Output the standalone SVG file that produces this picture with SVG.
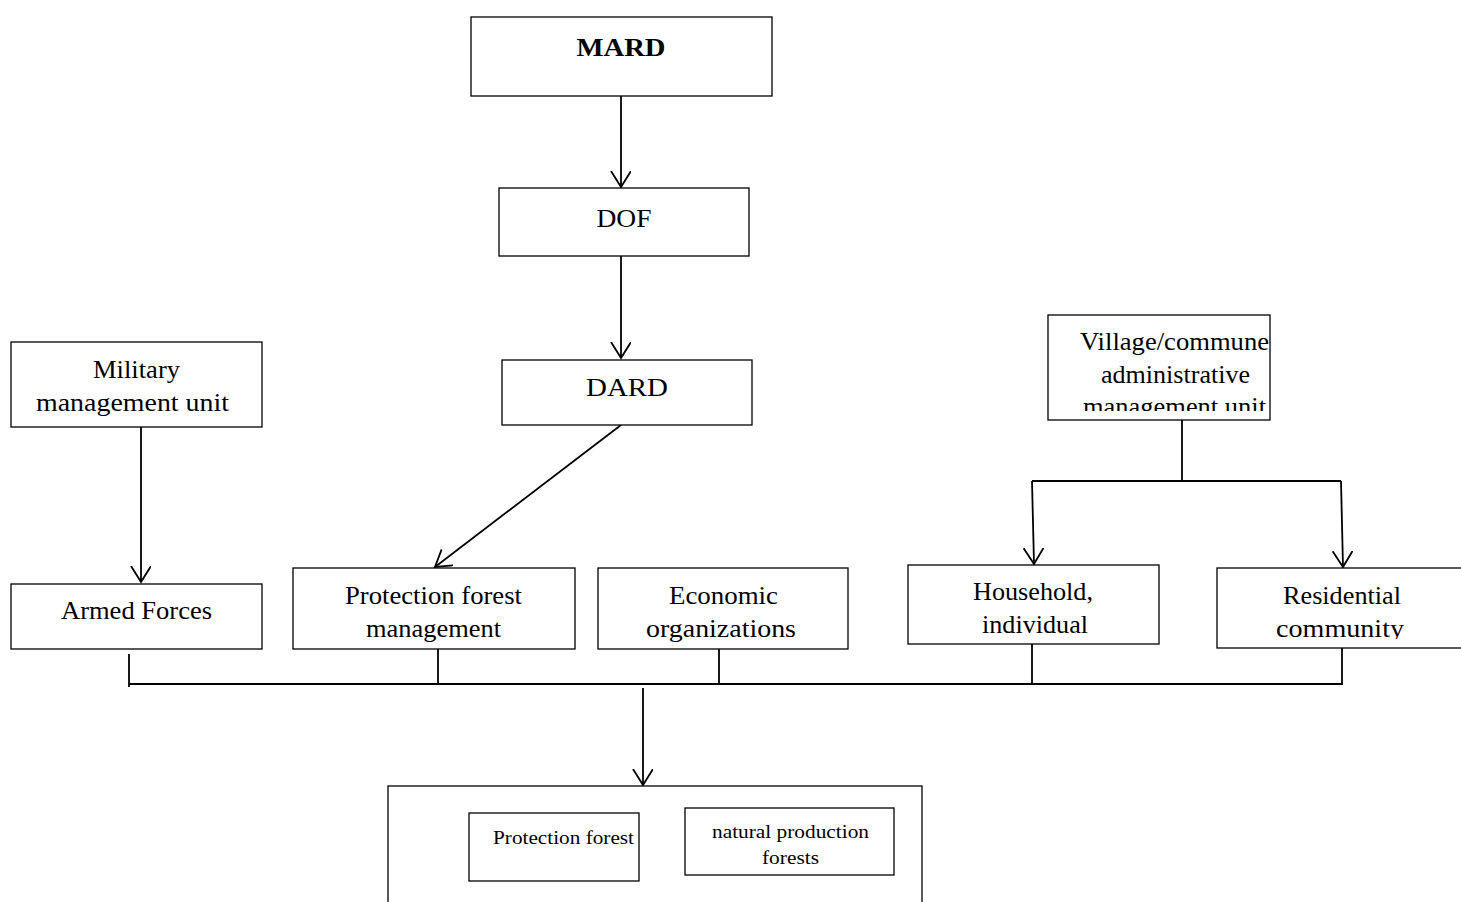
<svg xmlns="http://www.w3.org/2000/svg" width="1461" height="902" viewBox="0 0 1461 902">
<style>
.box{fill:#fff;stroke:#000;stroke-width:1.3}
.t{font-family:"Liberation Serif","Times New Roman",serif;font-size:26px;fill:#000;text-anchor:middle}
.s{font-size:19px}
.c{fill:none;stroke:#000;stroke-width:1.8}
</style>
<defs>
<marker id="arr" markerUnits="userSpaceOnUse" markerWidth="24" markerHeight="24" refX="16" refY="10" orient="auto" viewBox="0 0 24 24">
<path d="M0,0 L16,10 L0,20" fill="none" stroke="#000" stroke-width="1.8"/>
</marker>
<clipPath id="cv"><rect x="1048" y="315" width="222" height="96"/></clipPath>
<clipPath id="cr"><rect x="1217" y="568" width="244" height="71"/></clipPath>
</defs>
<g id="connectors">
<line class="c" x1="621" y1="96" x2="621" y2="187" marker-end="url(#arr)"/>
<line class="c" x1="621" y1="256" x2="621" y2="358" marker-end="url(#arr)"/>
<line class="c" x1="621" y1="425" x2="435" y2="567" marker-end="url(#arr)"/>
<line class="c" x1="141" y1="427" x2="141" y2="582" marker-end="url(#arr)"/>
<polyline class="c" points="1182,420 1182,481"/>
<line class="c" x1="1032" y1="481" x2="1341" y2="481"/>
<line class="c" x1="1032" y1="481" x2="1034" y2="564" marker-end="url(#arr)"/>
<line class="c" x1="1341" y1="481" x2="1343" y2="567" marker-end="url(#arr)"/>
<line class="c" x1="129" y1="654" x2="129" y2="687"/>
<line class="c" x1="129" y1="684" x2="1342" y2="684"/>
<line class="c" x1="438" y1="649" x2="438" y2="684"/>
<line class="c" x1="719" y1="649" x2="719" y2="684"/>
<line class="c" x1="1032" y1="644" x2="1032" y2="684"/>
<line class="c" x1="1342" y1="648" x2="1342" y2="685"/>
<line class="c" x1="643" y1="688" x2="643" y2="785" marker-end="url(#arr)"/>
</g>
<g id="mard"><rect class="box" x="471" y="17" width="301" height="79"/><text class="t" x="621" y="56" font-size="29" font-weight="bold" textLength="89" lengthAdjust="spacingAndGlyphs">MARD</text></g>
<g id="dof"><rect class="box" x="499" y="188" width="250" height="68"/><text class="t" x="624" y="227" textLength="55" lengthAdjust="spacingAndGlyphs">DOF</text></g>
<g id="dard"><rect class="box" x="502" y="360" width="250" height="65"/><text class="t" x="627" y="396" textLength="82" lengthAdjust="spacingAndGlyphs">DARD</text></g>
<g id="military"><rect class="box" x="11" y="342" width="251" height="85"/><text class="t" x="136.5" y="378" textLength="87" lengthAdjust="spacingAndGlyphs">Military</text><text class="t" x="132.5" y="411" textLength="193" lengthAdjust="spacingAndGlyphs">management unit</text></g>
<g id="armed"><rect class="box" x="11" y="584" width="251" height="65"/><text class="t" x="136.5" y="619" textLength="151" lengthAdjust="spacingAndGlyphs">Armed Forces</text></g>
<g id="pfm"><rect class="box" x="293" y="568" width="282" height="81"/><text class="t" x="433.5" y="604" textLength="177" lengthAdjust="spacingAndGlyphs">Protection forest</text><text class="t" x="433.5" y="637" textLength="135" lengthAdjust="spacingAndGlyphs">management</text></g>
<g id="econ"><rect class="box" x="598" y="568" width="250" height="81"/><text class="t" x="723.5" y="604" textLength="109" lengthAdjust="spacingAndGlyphs">Economic</text><text class="t" x="721" y="637" textLength="150" lengthAdjust="spacingAndGlyphs">organizations</text></g>
<g id="village"><rect class="box" x="1048" y="315" width="222" height="105"/><g clip-path="url(#cv)"><text class="t" x="1174.5" y="350" textLength="189" lengthAdjust="spacingAndGlyphs">Village/commune</text><text class="t" x="1175.5" y="383" textLength="149" lengthAdjust="spacingAndGlyphs">administrative</text><text class="t" x="1174.5" y="415" textLength="183" lengthAdjust="spacingAndGlyphs">management unit</text></g></g>
<g id="household"><rect class="box" x="908" y="565" width="251" height="79"/><text class="t" x="1033" y="600" textLength="120" lengthAdjust="spacingAndGlyphs">Household,</text><text class="t" x="1035" y="633" textLength="106" lengthAdjust="spacingAndGlyphs">individual</text></g>
<g id="residential"><rect class="box" x="1217" y="568" width="250" height="80"/><g clip-path="url(#cr)"><text class="t" x="1342" y="604" textLength="118" lengthAdjust="spacingAndGlyphs">Residential</text><text class="t" x="1340" y="637" textLength="128" lengthAdjust="spacingAndGlyphs">community</text></g></g>
<g id="forests"><rect class="box" x="388" y="786" width="534" height="130"/>
<g id="pf"><rect class="box" x="469" y="813" width="170" height="68"/><text class="t s" x="563.5" y="844" textLength="141" lengthAdjust="spacingAndGlyphs">Protection forest</text></g>
<g id="npf"><rect class="box" x="685" y="808" width="209" height="67"/><text class="t s" x="790.5" y="838" textLength="157" lengthAdjust="spacingAndGlyphs">natural production</text><text class="t s" x="790.5" y="864" textLength="57" lengthAdjust="spacingAndGlyphs">forests</text></g>
</g>
</svg>
